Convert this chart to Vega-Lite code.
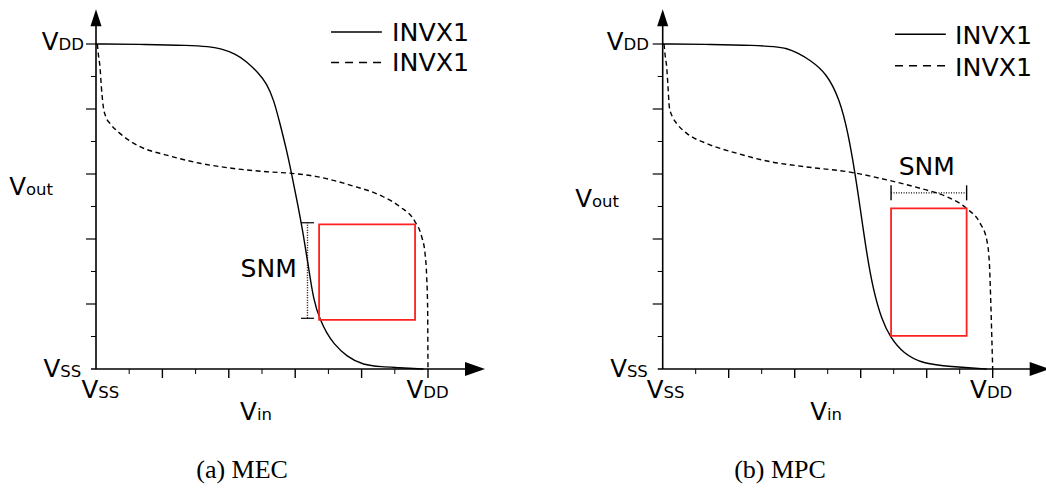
{
  "$schema": "https://vega.github.io/schema/vega-lite/v6.json",
  "padding": 0,
  "spacing": 0,
  "background": "white",
  "config": {"view": {"stroke": null}, "axis": {"disable": true}},
  "resolve": {"scale": {"x": "independent", "y": "independent"}},
  "datasets": {
    "curve": [
      {"p":"a","s":"solid","i":0,"x":0,"y":1},
      {"p":"a","s":"solid","i":1,"x":0.15,"y":0.999},
      {"p":"a","s":"solid","i":2,"x":0.28,"y":0.996},
      {"p":"a","s":"solid","i":3,"x":0.34,"y":0.992},
      {"p":"a","s":"solid","i":4,"x":0.373,"y":0.987},
      {"p":"a","s":"solid","i":5,"x":0.42,"y":0.97},
      {"p":"a","s":"solid","i":6,"x":0.454,"y":0.946},
      {"p":"a","s":"solid","i":7,"x":0.49,"y":0.91},
      {"p":"a","s":"solid","i":8,"x":0.514,"y":0.879},
      {"p":"a","s":"solid","i":9,"x":0.535,"y":0.83},
      {"p":"a","s":"solid","i":10,"x":0.554,"y":0.756},
      {"p":"a","s":"solid","i":11,"x":0.574,"y":0.674},
      {"p":"a","s":"solid","i":12,"x":0.589,"y":0.602},
      {"p":"a","s":"solid","i":13,"x":0.609,"y":0.499},
      {"p":"a","s":"solid","i":14,"x":0.624,"y":0.417},
      {"p":"a","s":"solid","i":15,"x":0.64,"y":0.315},
      {"p":"a","s":"solid","i":16,"x":0.655,"y":0.212},
      {"p":"a","s":"solid","i":17,"x":0.675,"y":0.151},
      {"p":"a","s":"solid","i":18,"x":0.695,"y":0.11},
      {"p":"a","s":"solid","i":19,"x":0.715,"y":0.079},
      {"p":"a","s":"solid","i":20,"x":0.755,"y":0.038},
      {"p":"a","s":"solid","i":21,"x":0.805,"y":0.012},
      {"p":"a","s":"solid","i":22,"x":0.86,"y":0.007},
      {"p":"a","s":"solid","i":23,"x":0.916,"y":0.004},
      {"p":"a","s":"solid","i":24,"x":0.96,"y":0.001},
      {"p":"a","s":"solid","i":25,"x":0.986,"y":0},
      {"p":"a","s":"dash","i":0,"x":0.004,"y":1},
      {"p":"a","s":"dash","i":1,"x":0.008,"y":0.96},
      {"p":"a","s":"dash","i":2,"x":0.012,"y":0.93},
      {"p":"a","s":"dash","i":3,"x":0.016,"y":0.87},
      {"p":"a","s":"dash","i":4,"x":0.022,"y":0.807},
      {"p":"a","s":"dash","i":5,"x":0.03,"y":0.775},
      {"p":"a","s":"dash","i":6,"x":0.042,"y":0.756},
      {"p":"a","s":"dash","i":7,"x":0.072,"y":0.725},
      {"p":"a","s":"dash","i":8,"x":0.133,"y":0.684},
      {"p":"a","s":"dash","i":9,"x":0.213,"y":0.658},
      {"p":"a","s":"dash","i":10,"x":0.313,"y":0.633},
      {"p":"a","s":"dash","i":11,"x":0.414,"y":0.617},
      {"p":"a","s":"dash","i":12,"x":0.514,"y":0.607},
      {"p":"a","s":"dash","i":13,"x":0.589,"y":0.602},
      {"p":"a","s":"dash","i":14,"x":0.665,"y":0.592},
      {"p":"a","s":"dash","i":15,"x":0.765,"y":0.566},
      {"p":"a","s":"dash","i":16,"x":0.865,"y":0.53},
      {"p":"a","s":"dash","i":17,"x":0.916,"y":0.499},
      {"p":"a","s":"dash","i":18,"x":0.961,"y":0.453},
      {"p":"a","s":"dash","i":19,"x":0.981,"y":0.407},
      {"p":"a","s":"dash","i":20,"x":0.991,"y":0.356},
      {"p":"a","s":"dash","i":21,"x":0.996,"y":0.284},
      {"p":"a","s":"dash","i":22,"x":0.999,"y":0.181},
      {"p":"a","s":"dash","i":23,"x":0.9995,"y":0.09},
      {"p":"a","s":"dash","i":24,"x":1.0,"y":0},
      {"p":"b","s":"solid","i":0,"x":0,"y":1},
      {"p":"b","s":"solid","i":1,"x":0.15,"y":0.999},
      {"p":"b","s":"solid","i":2,"x":0.28,"y":0.996},
      {"p":"b","s":"solid","i":3,"x":0.34,"y":0.992},
      {"p":"b","s":"solid","i":4,"x":0.376,"y":0.987},
      {"p":"b","s":"solid","i":5,"x":0.41,"y":0.972},
      {"p":"b","s":"solid","i":6,"x":0.446,"y":0.951},
      {"p":"b","s":"solid","i":7,"x":0.497,"y":0.91},
      {"p":"b","s":"solid","i":8,"x":0.537,"y":0.828},
      {"p":"b","s":"solid","i":9,"x":0.562,"y":0.725},
      {"p":"b","s":"solid","i":10,"x":0.583,"y":0.602},
      {"p":"b","s":"solid","i":11,"x":0.598,"y":0.499},
      {"p":"b","s":"solid","i":12,"x":0.618,"y":0.356},
      {"p":"b","s":"solid","i":13,"x":0.638,"y":0.243},
      {"p":"b","s":"solid","i":14,"x":0.664,"y":0.151},
      {"p":"b","s":"solid","i":15,"x":0.689,"y":0.099},
      {"p":"b","s":"solid","i":16,"x":0.729,"y":0.048},
      {"p":"b","s":"solid","i":17,"x":0.79,"y":0.015},
      {"p":"b","s":"solid","i":18,"x":0.881,"y":0.007},
      {"p":"b","s":"solid","i":19,"x":0.94,"y":0.003},
      {"p":"b","s":"solid","i":20,"x":0.982,"y":0},
      {"p":"b","s":"dash","i":0,"x":0.004,"y":1},
      {"p":"b","s":"dash","i":1,"x":0.008,"y":0.96},
      {"p":"b","s":"dash","i":2,"x":0.012,"y":0.93},
      {"p":"b","s":"dash","i":3,"x":0.016,"y":0.87},
      {"p":"b","s":"dash","i":4,"x":0.02,"y":0.807},
      {"p":"b","s":"dash","i":5,"x":0.03,"y":0.775},
      {"p":"b","s":"dash","i":6,"x":0.042,"y":0.756},
      {"p":"b","s":"dash","i":7,"x":0.073,"y":0.725},
      {"p":"b","s":"dash","i":8,"x":0.133,"y":0.694},
      {"p":"b","s":"dash","i":9,"x":0.224,"y":0.664},
      {"p":"b","s":"dash","i":10,"x":0.325,"y":0.638},
      {"p":"b","s":"dash","i":11,"x":0.426,"y":0.623},
      {"p":"b","s":"dash","i":12,"x":0.578,"y":0.604},
      {"p":"b","s":"dash","i":13,"x":0.679,"y":0.582},
      {"p":"b","s":"dash","i":14,"x":0.78,"y":0.556},
      {"p":"b","s":"dash","i":15,"x":0.861,"y":0.53},
      {"p":"b","s":"dash","i":16,"x":0.921,"y":0.494},
      {"p":"b","s":"dash","i":17,"x":0.962,"y":0.448},
      {"p":"b","s":"dash","i":18,"x":0.982,"y":0.397},
      {"p":"b","s":"dash","i":19,"x":0.99,"y":0.325},
      {"p":"b","s":"dash","i":20,"x":0.994,"y":0.212},
      {"p":"b","s":"dash","i":21,"x":0.997,"y":0.109},
      {"p":"b","s":"dash","i":22,"x":1.0,"y":0}
    ],
    "xtick": [
      {"x":0.1,"y":0,"major":false},{"x":0.2,"y":0,"major":true},
      {"x":0.3,"y":0,"major":false},{"x":0.4,"y":0,"major":true},
      {"x":0.5,"y":0,"major":false},{"x":0.6,"y":0,"major":true},
      {"x":0.7,"y":0,"major":false},{"x":0.8,"y":0,"major":true},
      {"x":0.9,"y":0,"major":false},{"x":1.0,"y":0,"major":true}
    ],
    "ytick": [
      {"x":0,"y":0.1,"major":false},{"x":0,"y":0.2,"major":true},
      {"x":0,"y":0.3,"major":false},{"x":0,"y":0.4,"major":true},
      {"x":0,"y":0.5,"major":false},{"x":0,"y":0.6,"major":true},
      {"x":0,"y":0.7,"major":false},{"x":0,"y":0.8,"major":true},
      {"x":0,"y":0.9,"major":false},{"x":0,"y":1.0,"major":true}
    ],
    "axisline": [
      {"p":"a","x":-0.015,"x2":1.14,"y":0,"y2":0},
      {"p":"a","x":0,"x2":0,"y":0,"y2":1.08},
      {"p":"b","x":-0.015,"x2":1.14,"y":0,"y2":0},
      {"p":"b","x":0,"x2":0,"y":0,"y2":1.08}
    ],
    "arrow": [
      {"p":"a","dir":"right","x":1.1416,"y":0},
      {"p":"a","dir":"up","x":0,"y":1.0806},
      {"p":"b","dir":"right","x":1.1424,"y":0},
      {"p":"b","dir":"up","x":0,"y":1.0806}
    ],
    "box": [
      {"p":"a","x":0.672,"x2":0.961,"y":0.151,"y2":0.445},
      {"p":"b","x":0.692,"x2":0.921,"y":0.102,"y2":0.494}
    ],
    "snm": [
      {"p":"a","x":0.637,"x2":0.637,"y":0.156,"y2":0.45},
      {"p":"b","x":0.692,"x2":0.921,"y":0.542,"y2":0.542}
    ],
    "legline": [
      {"p":"a","s":"solid","x":0.708,"x2":0.861,"y":1.0369},
      {"p":"a","s":"dash","x":0.708,"x2":0.861,"y":0.943},
      {"p":"b","s":"solid","x":0.704,"x2":0.858,"y":1.0298},
      {"p":"b","s":"dash","x":0.704,"x2":0.858,"y":0.9332}
    ],
    "lab": [
      {"p":"a","role":"main","t":"V","x":-0.113,"y":0.9815},
      {"p":"a","role":"sub","t":"DD","x":-0.113,"y":0.9815},
      {"p":"a","role":"main","t":"V","x":-0.1078,"y":-0.0246},
      {"p":"a","role":"sub","t":"SS","x":-0.1078,"y":-0.0246},
      {"p":"a","role":"main","t":"V","x":0.0066,"y":-0.0892},
      {"p":"a","role":"sub","t":"SS","x":0.0066,"y":-0.0892},
      {"p":"a","role":"main","t":"V","x":0.9855,"y":-0.0892},
      {"p":"a","role":"sub","t":"DD","x":0.9855,"y":-0.0892},
      {"p":"a","role":"main","t":"V","x":-0.2108,"y":0.5354},
      {"p":"a","role":"sub","t":"out","x":-0.2108,"y":0.5354},
      {"p":"a","role":"main","t":"V","x":0.4846,"y":-0.1569},
      {"p":"a","role":"sub","t":"in","x":0.4846,"y":-0.1569},
      {"p":"a","role":"leg","t":"INVX1","x":0.8916,"y":1.0092},
      {"p":"a","role":"leg","t":"INVX1","x":0.8916,"y":0.9154},
      {"p":"a","role":"snm","t":"SNM","x":0.6045,"y":0.284},
      {"p":"a","role":"cap","t":"(a) MEC","x":0.44,"y":-0.3354},
      {"p":"b","role":"main","t":"V","x":-0.1188,"y":0.9815},
      {"p":"b","role":"sub","t":"DD","x":-0.1188,"y":0.9815},
      {"p":"b","role":"main","t":"V","x":-0.1085,"y":-0.0237},
      {"p":"b","role":"sub","t":"SS","x":-0.1085,"y":-0.0237},
      {"p":"b","role":"main","t":"V","x":0.0024,"y":-0.09},
      {"p":"b","role":"sub","t":"SS","x":0.0024,"y":-0.09},
      {"p":"b","role":"main","t":"V","x":0.9824,"y":-0.09},
      {"p":"b","role":"sub","t":"DD","x":0.9824,"y":-0.09},
      {"p":"b","role":"main","t":"V","x":-0.2145,"y":0.4994},
      {"p":"b","role":"sub","t":"out","x":-0.2145,"y":0.4994},
      {"p":"b","role":"main","t":"V","x":0.4976,"y":-0.1569},
      {"p":"b","role":"sub","t":"in","x":0.4976,"y":-0.1569},
      {"p":"b","role":"leg","t":"INVX1","x":0.8858,"y":0.9991},
      {"p":"b","role":"leg","t":"INVX1","x":0.8858,"y":0.9015},
      {"p":"b","role":"snm","t":"SNM","x":0.8,"y":0.597},
      {"p":"b","role":"cap","t":"(b) MPC","x":0.3555,"y":-0.3354}
    ]
  },
  "hconcat": [
    {
      "width": 523,
      "height": 497,
      "encoding": {
        "x": {"field": "x", "type": "quantitative", "axis": null, "scale": {"domain": [-0.28916, 1.28614], "nice": false, "zero": false}},
        "y": {"field": "y", "type": "quantitative", "axis": null, "scale": {"domain": [-0.39385, 1.13538], "nice": false, "zero": false}}
      },
      "layer": [
        {"data": {"name": "axisline"}, "transform": [{"filter": "datum.p === 'a'"}],
         "mark": {"type": "rule", "color": "black", "strokeWidth": 1.6},
         "encoding": {"x2": {"field": "x2"}, "y2": {"field": "y2"}}},
        {"data": {"name": "xtick"}, "transform": [{"filter": "datum.major"}],
         "mark": {"type": "rule", "color": "black", "strokeWidth": 1.4},
         "encoding": {"y2": {"datum": -0.0277}}},
        {"data": {"name": "xtick"}, "transform": [{"filter": "!datum.major"}],
         "mark": {"type": "rule", "color": "black", "strokeWidth": 1},
         "encoding": {"y2": {"datum": -0.0154}}},
        {"data": {"name": "ytick"}, "transform": [{"filter": "datum.major"}],
         "mark": {"type": "rule", "color": "black", "strokeWidth": 1.2},
         "encoding": {"x2": {"datum": -0.0301}}},
        {"data": {"name": "ytick"}, "transform": [{"filter": "!datum.major"}],
         "mark": {"type": "rule", "color": "black", "strokeWidth": 1},
         "encoding": {"x2": {"datum": -0.0151}}},
        {"data": {"name": "arrow"}, "transform": [{"filter": "datum.p === 'a' && datum.dir === 'right'"}],
         "mark": {"type": "point", "shape": "M1,0L-1,-0.7L-1,0.7Z", "size": 400, "filled": true, "fill": "black", "strokeWidth": 0, "opacity": 1}},
        {"data": {"name": "arrow"}, "transform": [{"filter": "datum.p === 'a' && datum.dir === 'up'"}],
         "mark": {"type": "point", "shape": "M0,-1L-0.65,1L0.65,1Z", "size": 289, "filled": true, "fill": "black", "strokeWidth": 0, "opacity": 1}},
        {"data": {"name": "curve"}, "transform": [{"filter": "datum.p === 'a' && datum.s === 'solid'"}],
         "mark": {"type": "line", "color": "black", "strokeWidth": 1.4, "interpolate": "basis"},
         "encoding": {"order": {"field": "i"}}},
        {"data": {"name": "curve"}, "transform": [{"filter": "datum.p === 'a' && datum.s === 'dash'"}],
         "mark": {"type": "line", "color": "black", "strokeWidth": 1.4, "interpolate": "monotone", "strokeDash": [5, 3.5]},
         "encoding": {"order": {"field": "i"}}},
        {"data": {"name": "box"}, "transform": [{"filter": "datum.p === 'a'"}],
         "mark": {"type": "rect", "fillOpacity": 0, "stroke": "#ff2020", "strokeWidth": 1.8},
         "encoding": {"x2": {"field": "x2"}, "y2": {"field": "y2"}}},
        {"data": {"name": "snm"}, "transform": [{"filter": "datum.p === 'a'"}],
         "mark": {"type": "rule", "color": "black", "strokeWidth": 1.4, "strokeDash": [1, 1.5]},
         "encoding": {"x2": {"field": "x2"}, "y2": {"field": "y2"}}},
        {"data": {"name": "snm"}, "transform": [{"filter": "datum.p === 'a'"}],
         "mark": {"type": "tick", "orient": "horizontal", "size": 13, "thickness": 1.2, "color": "black", "opacity": 1}},
        {"data": {"name": "snm"}, "transform": [{"filter": "datum.p === 'a'"}],
         "mark": {"type": "tick", "orient": "horizontal", "size": 13, "thickness": 1.2, "color": "black", "opacity": 1},
         "encoding": {"x": {"field": "x2", "type": "quantitative"}, "y": {"field": "y2", "type": "quantitative"}}},
        {"data": {"name": "legline"}, "transform": [{"filter": "datum.p === 'a' && datum.s === 'solid'"}],
         "mark": {"type": "rule", "color": "black", "strokeWidth": 1.5},
         "encoding": {"x2": {"field": "x2"}}},
        {"data": {"name": "legline"}, "transform": [{"filter": "datum.p === 'a' && datum.s === 'dash'"}],
         "mark": {"type": "rule", "color": "black", "strokeWidth": 1.5, "strokeDash": [8, 6]},
         "encoding": {"x2": {"field": "x2"}}},
        {"data": {"name": "lab"}, "transform": [{"filter": "datum.p === 'a' && datum.role === 'main'"}],
         "mark": {"type": "text", "font": "DejaVu Sans", "fontSize": 24.5, "align": "right", "baseline": "alphabetic", "color": "black"},
         "encoding": {"text": {"field": "t"}}},
        {"data": {"name": "lab"}, "transform": [{"filter": "datum.p === 'a' && datum.role === 'sub'"}],
         "mark": {"type": "text", "font": "DejaVu Sans", "fontSize": 16.5, "align": "left", "baseline": "alphabetic", "color": "black"},
         "encoding": {"text": {"field": "t"}}},
        {"data": {"name": "lab"}, "transform": [{"filter": "datum.p === 'a' && datum.role === 'leg'"}],
         "mark": {"type": "text", "font": "DejaVu Sans", "fontSize": 25.3, "align": "left", "baseline": "alphabetic", "color": "black"},
         "encoding": {"text": {"field": "t"}}},
        {"data": {"name": "lab"}, "transform": [{"filter": "datum.p === 'a' && datum.role === 'snm'"}],
         "mark": {"type": "text", "font": "DejaVu Sans", "fontSize": 25, "align": "right", "baseline": "alphabetic", "color": "black"},
         "encoding": {"text": {"field": "t"}}},
        {"data": {"name": "lab"}, "transform": [{"filter": "datum.p === 'a' && datum.role === 'cap'"}],
         "mark": {"type": "text", "font": "Liberation Serif", "fontSize": 26, "align": "center", "baseline": "alphabetic", "color": "black"},
         "encoding": {"text": {"field": "t"}}}
      ]
    },
    {
      "width": 523,
      "height": 497,
      "encoding": {
        "x": {"field": "x", "type": "quantitative", "axis": null, "scale": {"domain": [-0.42333, 1.16152], "nice": false, "zero": false}},
        "y": {"field": "y", "type": "quantitative", "axis": null, "scale": {"domain": [-0.39385, 1.13538], "nice": false, "zero": false}}
      },
      "layer": [
        {"data": {"name": "axisline"}, "transform": [{"filter": "datum.p === 'b'"}],
         "mark": {"type": "rule", "color": "black", "strokeWidth": 1.6, "clip": true},
         "encoding": {"x2": {"field": "x2"}, "y2": {"field": "y2"}}},
        {"data": {"name": "xtick"}, "transform": [{"filter": "datum.major"}],
         "mark": {"type": "rule", "color": "black", "strokeWidth": 1.4},
         "encoding": {"y2": {"datum": -0.0277}}},
        {"data": {"name": "xtick"}, "transform": [{"filter": "!datum.major"}],
         "mark": {"type": "rule", "color": "black", "strokeWidth": 1},
         "encoding": {"y2": {"datum": -0.0154}}},
        {"data": {"name": "ytick"}, "transform": [{"filter": "datum.major"}],
         "mark": {"type": "rule", "color": "black", "strokeWidth": 1.2},
         "encoding": {"x2": {"datum": -0.0303}}},
        {"data": {"name": "ytick"}, "transform": [{"filter": "!datum.major"}],
         "mark": {"type": "rule", "color": "black", "strokeWidth": 1},
         "encoding": {"x2": {"datum": -0.0152}}},
        {"data": {"name": "arrow"}, "transform": [{"filter": "datum.p === 'b' && datum.dir === 'right'"}],
         "mark": {"type": "point", "shape": "M1,0L-1,-0.7L-1,0.7Z", "size": 400, "filled": true, "fill": "black", "strokeWidth": 0, "opacity": 1, "clip": true}},
        {"data": {"name": "arrow"}, "transform": [{"filter": "datum.p === 'b' && datum.dir === 'up'"}],
         "mark": {"type": "point", "shape": "M0,-1L-0.65,1L0.65,1Z", "size": 289, "filled": true, "fill": "black", "strokeWidth": 0, "opacity": 1}},
        {"data": {"name": "curve"}, "transform": [{"filter": "datum.p === 'b' && datum.s === 'solid'"}],
         "mark": {"type": "line", "color": "black", "strokeWidth": 1.4, "interpolate": "basis"},
         "encoding": {"order": {"field": "i"}}},
        {"data": {"name": "curve"}, "transform": [{"filter": "datum.p === 'b' && datum.s === 'dash'"}],
         "mark": {"type": "line", "color": "black", "strokeWidth": 1.4, "interpolate": "monotone", "strokeDash": [5, 3.5]},
         "encoding": {"order": {"field": "i"}}},
        {"data": {"name": "box"}, "transform": [{"filter": "datum.p === 'b'"}],
         "mark": {"type": "rect", "fillOpacity": 0, "stroke": "#ff2020", "strokeWidth": 1.8},
         "encoding": {"x2": {"field": "x2"}, "y2": {"field": "y2"}}},
        {"data": {"name": "snm"}, "transform": [{"filter": "datum.p === 'b'"}],
         "mark": {"type": "rule", "color": "black", "strokeWidth": 1.4, "strokeDash": [1, 1.5]},
         "encoding": {"x2": {"field": "x2"}, "y2": {"field": "y2"}}},
        {"data": {"name": "snm"}, "transform": [{"filter": "datum.p === 'b'"}],
         "mark": {"type": "tick", "orient": "vertical", "size": 15, "thickness": 1.4, "color": "black", "opacity": 1}},
        {"data": {"name": "snm"}, "transform": [{"filter": "datum.p === 'b'"}],
         "mark": {"type": "tick", "orient": "vertical", "size": 15, "thickness": 1.4, "color": "black", "opacity": 1},
         "encoding": {"x": {"field": "x2", "type": "quantitative"}, "y": {"field": "y2", "type": "quantitative"}}},
        {"data": {"name": "legline"}, "transform": [{"filter": "datum.p === 'b' && datum.s === 'solid'"}],
         "mark": {"type": "rule", "color": "black", "strokeWidth": 1.5},
         "encoding": {"x2": {"field": "x2"}}},
        {"data": {"name": "legline"}, "transform": [{"filter": "datum.p === 'b' && datum.s === 'dash'"}],
         "mark": {"type": "rule", "color": "black", "strokeWidth": 1.5, "strokeDash": [8, 6]},
         "encoding": {"x2": {"field": "x2"}}},
        {"data": {"name": "lab"}, "transform": [{"filter": "datum.p === 'b' && datum.role === 'main'"}],
         "mark": {"type": "text", "font": "DejaVu Sans", "fontSize": 24.5, "align": "right", "baseline": "alphabetic", "color": "black"},
         "encoding": {"text": {"field": "t"}}},
        {"data": {"name": "lab"}, "transform": [{"filter": "datum.p === 'b' && datum.role === 'sub'"}],
         "mark": {"type": "text", "font": "DejaVu Sans", "fontSize": 16.5, "align": "left", "baseline": "alphabetic", "color": "black"},
         "encoding": {"text": {"field": "t"}}},
        {"data": {"name": "lab"}, "transform": [{"filter": "datum.p === 'b' && datum.role === 'leg'"}],
         "mark": {"type": "text", "font": "DejaVu Sans", "fontSize": 25.3, "align": "left", "baseline": "alphabetic", "color": "black"},
         "encoding": {"text": {"field": "t"}}},
        {"data": {"name": "lab"}, "transform": [{"filter": "datum.p === 'b' && datum.role === 'snm'"}],
         "mark": {"type": "text", "font": "DejaVu Sans", "fontSize": 25, "align": "center", "baseline": "alphabetic", "color": "black"},
         "encoding": {"text": {"field": "t"}}},
        {"data": {"name": "lab"}, "transform": [{"filter": "datum.p === 'b' && datum.role === 'cap'"}],
         "mark": {"type": "text", "font": "Liberation Serif", "fontSize": 26, "align": "center", "baseline": "alphabetic", "color": "black"},
         "encoding": {"text": {"field": "t"}}}
      ]
    }
  ]
}
